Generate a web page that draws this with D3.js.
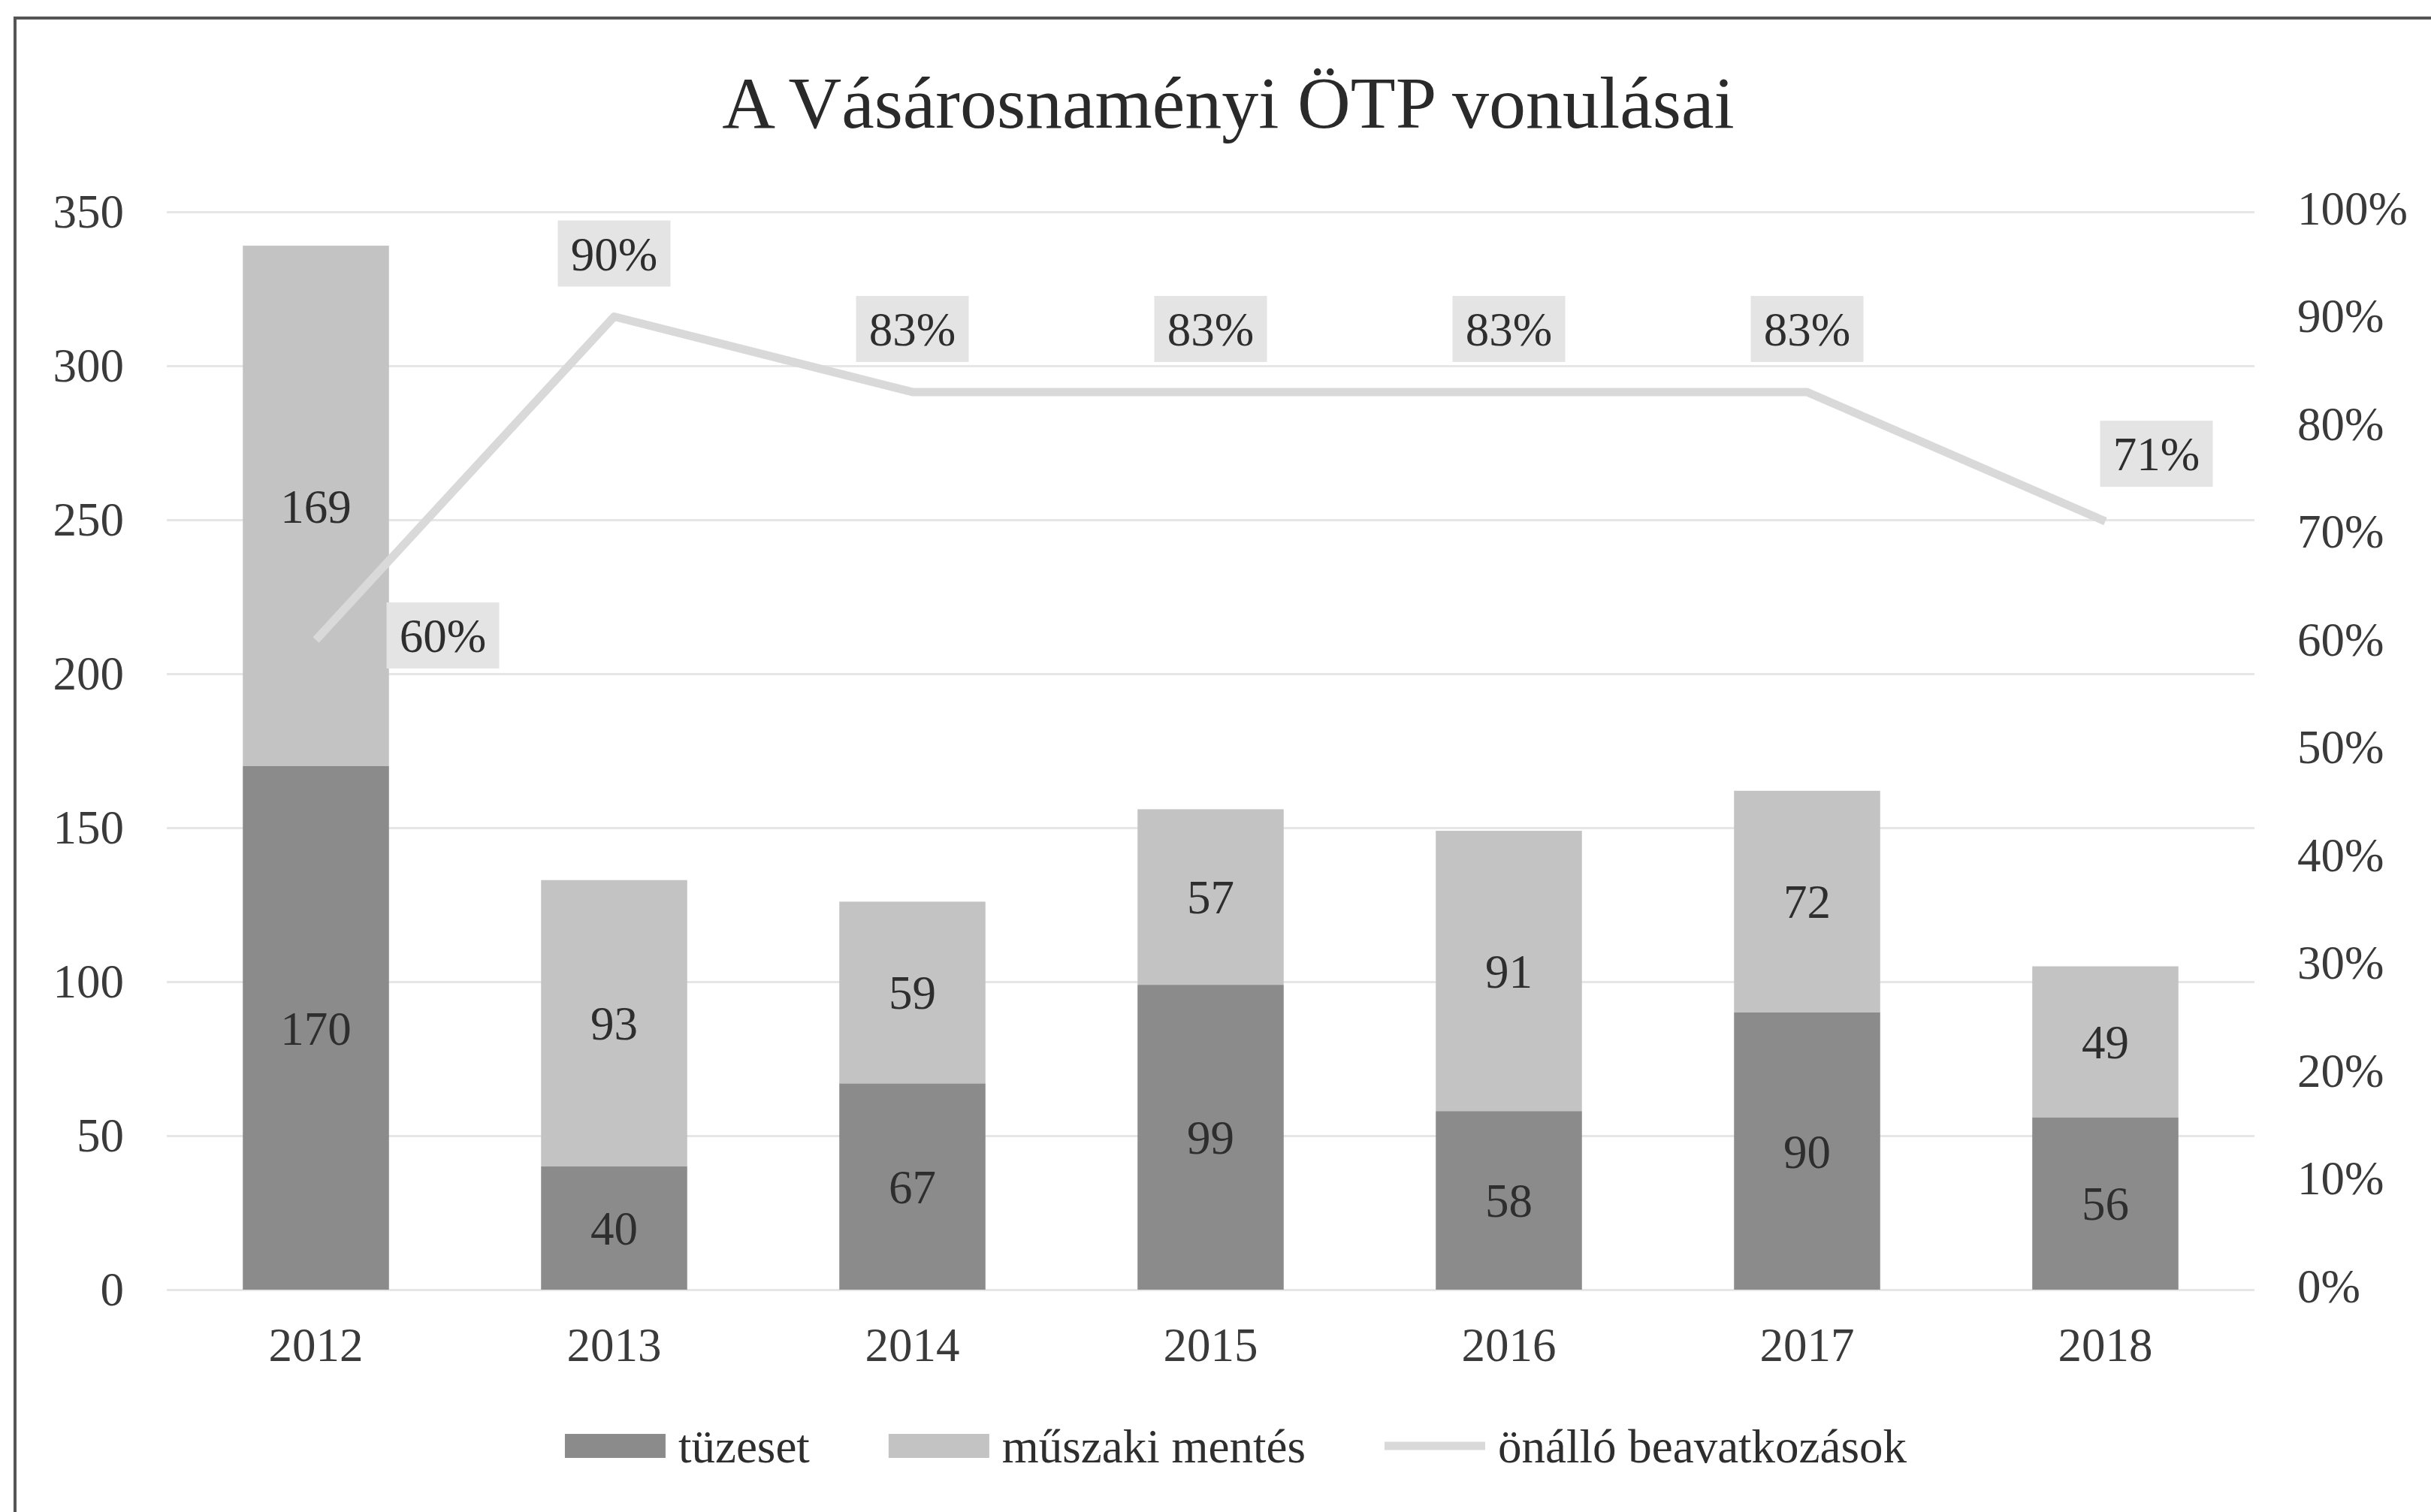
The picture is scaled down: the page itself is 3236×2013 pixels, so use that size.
<!DOCTYPE html>
<html>
<head>
<meta charset="utf-8">
<script src="https://cdn.jsdelivr.net/npm/d3@7"></script>
<style>
  body { margin: 0; background: #fff; }
  text { font-family: "Liberation Serif", "Times New Roman", serif; }
</style>
</head>
<body>
<svg id="svg1" width="3236" height="2013"></svg>
<script>
// data
var years = ["2012", "2013", "2014", "2015", "2016", "2017", "2018"];
var tuzeset = [170, 40, 67, 99, 58, 90, 56];
var muszaki = [169, 93, 59, 57, 91, 72, 49];
var onallo = [0.60, 0.90, 0.83, 0.83, 0.83, 0.83, 0.71];
var leftTicks = [0, 50, 100, 150, 200, 250, 300, 350];
var rightTicks = [0, 0.1, 0.2, 0.3, 0.4, 0.5, 0.6, 0.7, 0.8, 0.9, 1];
var seriesNames = ["tüzeset", "műszaki mentés", "önálló beavatkozások"];

//set up constants
var W = 3236, H = 2013;
var plotLeft = 222, plotRight = 3001, plotTop = 282, plotBottom = 1717;
var fontSize = 63;
var darkFill = "#8b8b8b", lightFill = "#c3c3c3", lineColor = "#d9d9d9", boxFill = "#e4e4e4";

var svg = d3.select("#svg1");

//frame of the scanned chart (only top and left edges show)
svg.append("rect")
  .attr("x", 20).attr("y", 24)
  .attr("width", W).attr("height", H)
  .attr("fill", "#fff")
  .attr("stroke", "#555").attr("stroke-width", 4);

//SCALES
var x = d3.scaleBand()
  .domain(years)
  .range([plotLeft, plotRight])
  .paddingInner(0.51)
  .paddingOuter(0.255);

var y = d3.scaleLinear().domain([0, 350]).range([plotBottom, plotTop]);
var yPct = d3.scaleLinear().domain([0, 1]).range([plotBottom - 4, plotTop - 4]);

//gridlines
svg.append("g")
  .attr("class", "grid")
  .attr("transform", "translate(" + plotLeft + ",0)")
  .call(d3.axisLeft(y).tickValues(leftTicks).tickSize(-(plotRight - plotLeft)).tickFormat(""))
  .call(function(g) { g.select(".domain").remove(); })
  .selectAll("line")
    .attr("stroke", "#e6e6e6")
    .attr("stroke-width", 3);

//TITLE
svg.append("text")
  .attr("x", 1635).attr("y", 170)
  .attr("text-anchor", "middle")
  .attr("font-size", 98)
  .attr("fill", "#2a2a2a")
  .text("A Vásárosnaményi ÖTP vonulásai");

//STACKED BARS
var stacked = years.map(function(yr, i) {
  return { year: yr, t: tuzeset[i], m: muszaki[i] };
});

var barG = svg.append("g");
barG.selectAll(".barT")
  .data(stacked)
  .enter().append("rect")
    .attr("class", "barT")
    .attr("x", function(d) { return x(d.year); })
    .attr("width", x.bandwidth())
    .attr("y", function(d) { return y(d.t); })
    .attr("height", function(d) { return y(0) - y(d.t); })
    .attr("fill", darkFill);

barG.selectAll(".barM")
  .data(stacked)
  .enter().append("rect")
    .attr("class", "barM")
    .attr("x", function(d) { return x(d.year); })
    .attr("width", x.bandwidth())
    .attr("y", function(d) { return y(d.t + d.m); })
    .attr("height", function(d) { return y(d.t) - y(d.t + d.m); })
    .attr("fill", lightFill);

//bar value labels
barG.selectAll(".lblT")
  .data(stacked)
  .enter().append("text")
    .attr("x", function(d) { return x(d.year) + x.bandwidth() / 2; })
    .attr("y", function(d) { return y(d.t / 2); })
    .attr("dy", "0.35em")
    .attr("text-anchor", "middle")
    .attr("font-size", fontSize)
    .attr("fill", "#2e2e2e")
    .text(function(d) { return d.t; });

barG.selectAll(".lblM")
  .data(stacked)
  .enter().append("text")
    .attr("x", function(d) { return x(d.year) + x.bandwidth() / 2; })
    .attr("y", function(d) { return y(d.t + d.m / 2); })
    .attr("dy", "0.35em")
    .attr("text-anchor", "middle")
    .attr("font-size", fontSize)
    .attr("fill", "#2e2e2e")
    .text(function(d) { return d.m; });

//LINE (right axis)
var lineData = years.map(function(yr, i) { return { year: yr, v: onallo[i], i: i }; });
var line = d3.line()
  .x(function(d) { return x(d.year) + x.bandwidth() / 2; })
  .y(function(d) { return yPct(d.v); });

svg.append("path")
  .datum(lineData)
  .attr("d", line)
  .attr("fill", "none")
  .attr("stroke", lineColor)
  .attr("stroke-width", 11)
  .attr("stroke-linejoin", "round");

//percentage labels in grey boxes
var pctFmt = d3.format(".0%");
var pctG = svg.append("g").selectAll("g")
  .data(lineData)
  .enter().append("g")
    .attr("transform", function(d) {
      var px = x(d.year) + x.bandwidth() / 2, py = yPct(d.v);
      if (d.i === 0) return "translate(" + (px + 169) + "," + (py - 6) + ")";
      if (d.i === years.length - 1) return "translate(" + (px + 68) + "," + (py - 90) + ")";
      return "translate(" + px + "," + (py - 84) + ")";
    });

pctG.append("rect")
  .attr("x", -75).attr("y", -44)
  .attr("width", 150).attr("height", 88)
  .attr("fill", boxFill);

pctG.append("text")
  .attr("text-anchor", "middle")
  .attr("dy", "0.35em")
  .attr("font-size", fontSize)
  .attr("fill", "#2e2e2e")
  .text(function(d) { return pctFmt(d.v); });

//AXES
svg.append("g")
  .attr("class", "yAxis")
  .attr("transform", "translate(" + plotLeft + ",0)")
  .call(d3.axisLeft(y).tickValues(leftTicks).tickSize(0).tickPadding(57))
  .call(function(g) { g.select(".domain").remove(); });

svg.append("g")
  .attr("class", "yAxis2")
  .attr("transform", "translate(" + plotRight + ",0)")
  .call(d3.axisRight(yPct).tickValues(rightTicks).tickSize(0).tickPadding(57).tickFormat(pctFmt))
  .call(function(g) { g.select(".domain").remove(); });

svg.append("g")
  .attr("class", "xAxis")
  .attr("transform", "translate(0," + plotBottom + ")")
  .call(d3.axisBottom(x).tickSize(0).tickPadding(50))
  .call(function(g) { g.select(".domain").remove(); });

svg.selectAll(".yAxis text, .yAxis2 text, .xAxis text")
  .attr("font-family", "Liberation Serif, Times New Roman, serif")
  .attr("font-size", fontSize)
  .attr("fill", "#3a3a3a");

//LEGEND
var legend = svg.append("g").attr("transform", "translate(0,1925)");
var swW = 134, swGap = 17, itemGap = 105;
var items = legend.selectAll("g")
  .data(seriesNames)
  .enter().append("g");

items.append("text")
  .attr("dy", "0.35em")
  .attr("font-size", fontSize)
  .attr("fill", "#2e2e2e")
  .text(function(d) { return d; });

var widths = [];
items.select("text").each(function() { widths.push(this.getComputedTextLength()); });
var total = d3.sum(widths) + seriesNames.length * (swW + swGap) + (seriesNames.length - 1) * itemGap;
var cx = 1645 - total / 2;
items.attr("transform", function(d, i) {
  var pos = cx;
  cx += swW + swGap + widths[i] + itemGap;
  return "translate(" + pos + ",0)";
});
items.select("text").attr("x", swW + swGap);

items.filter(function(d, i) { return i < 2; })
  .append("rect")
    .attr("x", 0).attr("y", -16)
    .attr("width", swW).attr("height", 32)
    .attr("fill", function(d, i) { return i === 0 ? darkFill : lightFill; });

items.filter(function(d, i) { return i === 2; })
  .append("line")
    .attr("x1", 0).attr("x2", swW)
    .attr("y1", 0).attr("y2", 0)
    .attr("stroke", lineColor)
    .attr("stroke-width", 11);
</script>
</body>
</html>
